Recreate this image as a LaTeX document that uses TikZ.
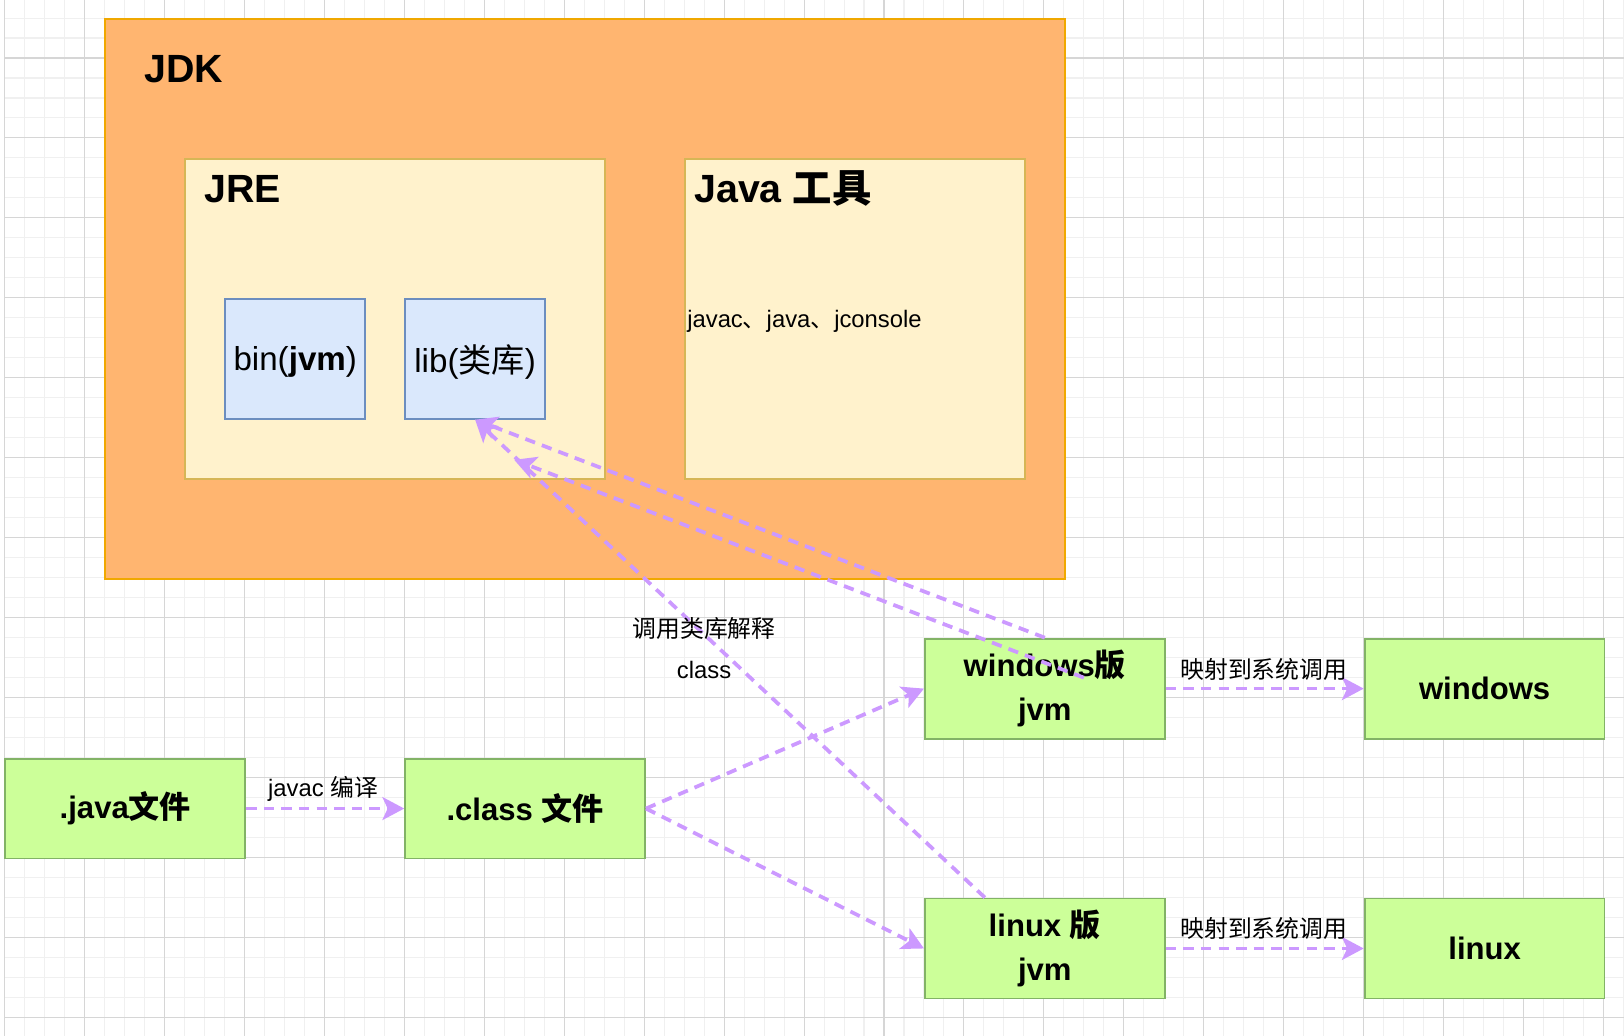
\documentclass[tikz,border=0pt]{standalone}
\usepackage{fontspec}
\setmainfont{Liberation Sans}
\newfontfamily\cjk{Noto Sans CJK SC}
\usetikzlibrary{arrows.meta}
\newcommand\zh[1]{{\cjk #1}}
\definecolor{jdkfill}{HTML}{FFB570}
\definecolor{jdkline}{HTML}{F0A800}
\definecolor{yfill}{HTML}{FFF2CC}
\definecolor{yline}{HTML}{D6B656}
\definecolor{bfill}{HTML}{DAE8FC}
\definecolor{bline}{HTML}{6C8EBF}
\definecolor{gfill}{HTML}{CCFF99}
\definecolor{gline}{HTML}{82B366}
\definecolor{arr}{HTML}{CC99FF}
\definecolor{gridminor}{HTML}{F0F0F0}
\definecolor{gridmajor}{HTML}{D6D6D6}
\begin{document}
\begin{tikzpicture}[x=19.3pt,y=-19.3pt,
  box/.style={draw, line width=1.8pt, inner sep=0pt, anchor=north west},
  jdkbox/.style={box, fill=jdkfill, draw=jdkline, minimum width=926.4pt, minimum height=540.4pt},
  ybox/.style={box, fill=yfill, draw=yline, minimum height=308.8pt},
  bluebox/.style={box, fill=bfill, draw=bline, minimum width=135.1pt, minimum height=115.8pt, text depth=0pt, font=\fontsize{32}{38}\selectfont},
  greenbox/.style={box, fill=gfill, draw=gline, minimum width=231.6pt, minimum height=96.5pt, align=center, font=\fontsize{30}{43}\selectfont\bfseries},
  title/.style={anchor=base west, inner sep=0pt, font=\fontsize{38}{44}\selectfont\bfseries},
  lbl/.style={inner sep=0pt, font=\fontsize{23}{28}\selectfont},
  flow/.style={draw=arr, line width=3.6pt, dash pattern=on 10pt off 7pt, -{Stealth[length=21pt,width=22pt,inset=5pt]}}
]
\useasboundingbox (-0.2228,-0.9016) rectangle (81.02,50.91);
\fill[white] (-0.2228,-0.9016) rectangle (81.02,50.91);
% grid
\foreach \i in {1,...,81} \draw[gridminor, line width=1pt] (\i,-0.91) -- (\i,50.91);
\foreach \j in {0,...,50} \draw[gridminor, line width=1pt] (0,\j) -- (81.02,\j);
\foreach \i in {4,8,...,80} \draw[gridmajor, line width=1pt] (\i,-0.91) -- (\i,50.91);
\foreach \j in {2,6,...,50} \draw[gridmajor, line width=1pt] (0,\j) -- (81.02,\j);
\draw[gridmajor, line width=1.8pt] (0,-0.91) -- (0,50.91);

% JDK container
\node[jdkbox] (jdk) at (5,0) {};
\node[title] (jdkt) at (7,3.24) {JDK};
\node[ybox, minimum width=405.3pt] (jre) at (9,7) {};
\node[title] (jret) at (10,9.25) {JRE};
\node[ybox, minimum width=328.1pt] (tools) at (34,7) {};
\node[title] (toolst) at (34.5,9.22) {Java \zh{工具}};
\node[anchor=base west, inner sep=0pt, font=\fontsize{23}{28}\selectfont] (toolsl) at (34.15,15.47) {javac\zh{、}java\zh{、}jconsole};
\node[bluebox] (bin) at (11,14) {bin(\textbf{jvm})};
\node[bluebox] (lib) at (20,14) {lib(\zh{类库})};

% flow boxes
\node[greenbox] (java) at (0,37) {.java\zh{文件}};
\node[greenbox] (class) at (20,37) {.class \zh{文件}};
\node[greenbox] (winjvm) at (46,31) {windows\zh{版}\\jvm};
\node[greenbox] (win) at (68,31) {windows};
\node[greenbox] (linjvm) at (46,44) {linux \zh{版}\\jvm};
\node[greenbox] (lin) at (68,44) {linux};

% connectors
\coordinate (bsrc) at (54,33);
\coordinate (bdst) at (25.5,22.1);
\draw[flow] (java) -- (class);
\draw[flow] (class.east) -- (winjvm.west);
\draw[flow] (class.east) -- (linjvm.west);
\draw[flow] (winjvm) -- (win);
\draw[flow] (linjvm) -- (lin);
\draw[flow] (winjvm.north) -- (lib.south);
\draw[flow] (bsrc) -- (bdst);
\draw[flow] ([xshift=-57.9pt]linjvm.north) -- (lib.south);

% labels
\node[lbl] (l1) at (15.94,38.58) {javac \zh{编译}};
\node[lbl] (l2) at (63,32.57) {\zh{映射到系统调用}};
\node[lbl] (l3) at (63,45.57) {\zh{映射到系统调用}};
\node[lbl] (l4) at (35,30.55) {\zh{调用类库解释}};
\node[lbl] (l5) at (35,32.62) {class};
\end{tikzpicture}
\end{document}
